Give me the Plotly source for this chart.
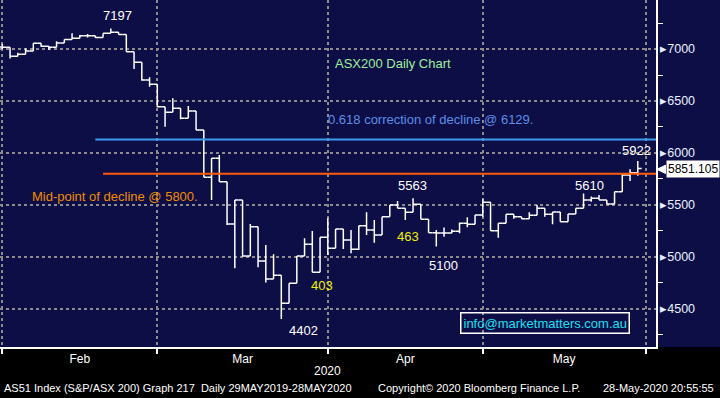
import plotly.graph_objects as go
import pandas as pd

# ---------------- data ----------------
hol = ["2020-04-10", "2020-04-13"]
dates = [d.strftime("%Y-%m-%d") for d in pd.bdate_range("2020-01-31", "2020-05-28") if d.strftime("%Y-%m-%d") not in hol]

opens = [7020, 7017, 6930, 6949, 6981, 7055, 7026, 7016, 7058, 7093,
         7103, 7128, 7128, 7112, 7151, 7161, 7141, 6974, 6872, 6702,
         6660, 6445, 6391, 6429, 6333, 6403, 6220, 5765, 5948, 5723,
         5316, 5547, 5008, 5290, 4959, 4786, 4822, 4553, 4745, 5008,
         5120, 4851, 5188, 5082, 5267, 5161, 5072, 5299, 5258, 5210,
         5386, 5498, 5467, 5428, 5505, 5361, 5232, 5229, 5229, 5245,
         5322, 5313, 5402, 5525, 5251, 5322, 5409, 5386, 5367, 5399,
         5467, 5409, 5431, 5338, 5412, 5467, 5547, 5563, 5547, 5508,
         5627, 5787, 5809]
highs = [7048, 7017, 6964, 7007, 7055, 7055, 7029, 7074, 7093, 7151,
         7135, 7145, 7128, 7151, 7197, 7161, 7141, 6974, 6872, 6728,
         6660, 6445, 6526, 6429, 6451, 6403, 6220, 5948, 5980, 5723,
         5547, 5547, 5316, 5290, 5114, 5024, 4822, 4745, 5008, 5178,
         5248, 5188, 5371, 5267, 5267, 5258, 5299, 5428, 5354, 5386,
         5498, 5537, 5467, 5563, 5505, 5361, 5258, 5283, 5264, 5331,
         5380, 5402, 5553, 5525, 5322, 5409, 5409, 5386, 5428, 5498,
         5467, 5431, 5431, 5412, 5467, 5610, 5580, 5595, 5547, 5627,
         5797, 5842, 5922]
lows = [6997, 6910, 6930, 6949, 6981, 7023, 6990, 7016, 7058, 7093,
        7103, 7112, 7109, 7112, 7151, 7141, 6974, 6808, 6695, 6637,
        6439, 6252, 6391, 6323, 6333, 6220, 5765, 5547, 5723, 5306,
        4889, 5001, 5008, 4899, 4754, 4786, 4402, 4553, 4745, 5008,
        4851, 4851, 5017, 5082, 5075, 5034, 5065, 5210, 5136, 5210,
        5386, 5467, 5354, 5428, 5361, 5232, 5100, 5193, 5226, 5226,
        5284, 5313, 5386, 5251, 5184, 5322, 5367, 5367, 5367, 5399,
        5386, 5313, 5338, 5338, 5412, 5467, 5531, 5547, 5508, 5508,
        5627, 5730, 5780]
closes = [7017, 6930, 6949, 6981, 7055, 7026, 7016, 7058, 7093, 7103,
          7128, 7128, 7112, 7151, 7161, 7141, 6974, 6872, 6702, 6660,
          6445, 6391, 6429, 6333, 6403, 6220, 5765, 5948, 5723, 5316,
          5547, 5008, 5290, 4959, 4786, 4822, 4553, 4745, 5008, 5120,
          4851, 5188, 5082, 5267, 5161, 5072, 5299, 5258, 5210, 5386,
          5498, 5467, 5428, 5505, 5361, 5232, 5229, 5229, 5245, 5322,
          5313, 5402, 5525, 5251, 5322, 5409, 5386, 5367, 5399, 5467,
          5409, 5431, 5338, 5412, 5467, 5547, 5563, 5547, 5508, 5627,
          5787, 5809, 5851]

month_labels = ["Feb", "Mar", "Apr", "May"]
month_label_pos = [10, 31, 52, 72.5]
month_bounds = [0, 20, 42, 62, 83]
y_ticks = [4500, 5000, 5500, 6000, 6500, 7000]

fib_level = 6129
mid_level = 5800
last_price = "5851.105"

x = list(range(len(dates)))

NAVY = "#0e0e46"
GRID = "#8c8c8c"
FONT = "Liberation Sans"

fig = go.Figure()
fig.add_trace(go.Ohlc(
    x=x, open=opens, high=highs, low=lows, close=closes,
    increasing=dict(line=dict(color="white", width=1.5)),
    decreasing=dict(line=dict(color="white", width=1.5)),
    tickwidth=0.5, text=dates, hoverinfo="text+y", showlegend=False))

X0, X1 = -0.3, 84.35
Y0, Y1 = 4132, 7472

shapes = [
    dict(type="rect", xref="paper", yref="paper", x0=1, x1=1.1, y0=0, y1=1,
         fillcolor=NAVY, line=dict(width=0), layer="below"),
    dict(type="line", xref="x", yref="y", x0=12, x1=X1, y0=fib_level, y1=fib_level,
         line=dict(color="#3d9cf0", width=2)),
    dict(type="line", xref="x", yref="y", x0=13, x1=X1, y0=mid_level, y1=mid_level,
         line=dict(color="#ff5a0a", width=2)),
    # pointer of last price label
    dict(type="path", xref="paper", yref="y",
         path="M 1.0015,5842 L 1.0145,5882 L 1.0145,5802 Z",
         fillcolor="white", line=dict(color="white", width=1)),
]

ann = []
def txt(t, xx, yy, color, size=13, family=FONT, **kw):
    ann.append(dict(text=t, x=xx, y=yy, xref="x", yref="y", showarrow=False,
                    font=dict(color=color, size=size, family=family), **kw))

txt("7197", 14.8, 7322, "white")
txt("ASX200 Daily Chart", 50.4, 6865, "#9cf09c")
txt("0.618 correction of decline @ 6129.", 55.2, 6326, "#5b8fe8")
txt("Mid-point of decline @ 5800.", 14.6, 5585, "#f08c00")
txt("5563", 52.9, 5684, "white")
txt("463", 52.4, 5193, "#f0f000")
txt("5100", 56.9, 4921, "white")
txt("403", 41.3, 4728, "#f0f000")
txt("4402", 38.8, 4295, "white")
txt("5610", 75.8, 5691, "white")
txt("5922", 81.8, 6028, "white")
txt("info@marketmatters.com.au", 70.0, 4360, "#19e0f0", size=13,
    bordercolor="white", borderwidth=1.5, borderpad=2)

ann.append(dict(text=last_price, x=1.0145, y=5842, xref="paper", yref="y",
                xanchor="left", showarrow=False, bgcolor="white",
                font=dict(color="black", size=12, family=FONT), borderpad=1))

ann.append(dict(text="2020", x=42, y=-0.069, xref="x", yref="paper", showarrow=False,
                yanchor="middle", font=dict(color="white", size=12, family=FONT)))
for t, xp in [("AS51 Index (S&P/ASX 200) Graph 217  Daily 29MAY2019-28MAY2020", 2),
              ("Copyright\u00a9 2020 Bloomberg Finance L.P.", 376),
              ("28-May-2020 20:55:55", 601)]:
    ann.append(dict(text=t, x=xp / 656, y=-0.118, xref="paper", yref="paper",
                    xanchor="left", yanchor="middle", showarrow=False,
                    font=dict(color="white", size=11, family=FONT)))

fig.update_layout(
    width=720, height=398,
    margin=dict(l=0, r=64, t=0, b=51, autoexpand=False),
    paper_bgcolor="black", plot_bgcolor=NAVY,
    shapes=shapes, annotations=ann,
    xaxis=dict(range=[X0, X1], rangeslider=dict(visible=False), automargin=False,
               tickmode="array", tickvals=month_label_pos, ticktext=month_labels,
               ticks="", showgrid=False, zeroline=False,
               showline=True, linecolor="white", linewidth=1.5,
               tickfont=dict(color="white", size=12, family=FONT),
               minor=dict(tickmode="array", tickvals=month_bounds, ticks="outside",
                          ticklen=5, tickcolor="white", tickwidth=1.5,
                          showgrid=True, gridcolor=GRID, griddash="dot", gridwidth=1.5)),
    yaxis=dict(range=[Y0, Y1], side="right", automargin=False,
               tickmode="array", tickvals=y_ticks,
               ticktext=["\u25b8" + str(v) for v in y_ticks],
               ticks="", showgrid=True, gridcolor=GRID, griddash="dot", gridwidth=1.5,
               zeroline=False, showline=True, linecolor="white", linewidth=1.5,
               tickfont=dict(color="#e8f0ff", size=12.5, family=FONT),
               minor=dict(tickmode="linear", tick0=4250, dtick=500, ticks="outside",
                          ticklen=5, tickcolor="white", tickwidth=1.2, showgrid=False)),
)

fig.write_html("out.html", config={"displayModeBar": False},
               post_script="document.body.style.margin='0';document.body.style.overflow='hidden';")
